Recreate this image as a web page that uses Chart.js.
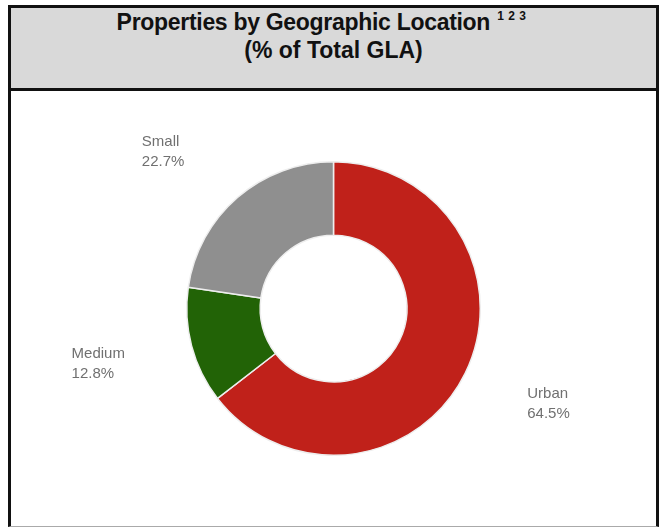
<!DOCTYPE html>
<html>
<head>
<meta charset="utf-8">
<script src="https://cdn.jsdelivr.net/npm/chart.js@4/dist/chart.umd.min.js"></script>
<style>
  html, body { margin: 0; padding: 0; background: #fff; }
  body { width: 660px; height: 527px; position: relative; overflow: hidden; font-family: "Liberation Sans", Arial, sans-serif; }
  #header {
    position: absolute; left: 8px; top: 5px; width: 645px; height: 80px;
    background: #d9d9d9; border: 3px solid #111;
    text-align: center; color: #111; font-weight: bold; font-size: 23px; line-height: 28px;
  }
  #header .t1 { padding-top: 0px; letter-spacing: -0.3px; position: relative; left: -12px; }
  #header sup { font-size: 12px; vertical-align: 10px; line-height: 0; margin-left: 1px; letter-spacing: 0.5px; }
  #box {
    position: absolute; left: 8px; top: 91px; width: 645px; height: 435px;
    border-left: 3px solid #111; border-right: 3px solid #111; border-bottom: 1px solid #aaa;
    background: #fff;
  }
  #wrap { position: absolute; left: 0; top: 0; width: 645px; height: 435px; }
</style>
</head>
<body>
<div id="header">
  <div class="t1">Properties by Geographic Location <sup>1 2 3</sup></div>
  <div>(% of Total GLA)</div>
</div>
<div id="box">
  <div id="wrap"><canvas id="donut"></canvas></div>
</div>
<script>
const categories = ['Urban', 'Medium', 'Small'];
const shares = [64.5, 12.8, 22.7];
const sliceColors = ['#c0211a', '#226306', '#8f8f8f'];

// labels outside each slice, like the original report
const outsideLabels = {
  id: 'outsideLabels',
  afterDatasetsDraw(chart) {
    const ctx = chart.ctx;
    const meta = chart.getDatasetMeta(0);
    ctx.save();
    ctx.font = '15px "Liberation Sans", Arial, sans-serif';
    ctx.fillStyle = '#707070';
    ctx.textBaseline = 'middle';
    ctx.textAlign = 'left';
    meta.data.forEach((arc, i) => {
      const mid = (arc.startAngle + arc.endAngle) / 2;
      const r = arc.outerRadius * 1.47;
      let x = arc.x + Math.cos(mid) * r;
      let y = arc.y + Math.sin(mid) * r;
      if (Math.sin(mid) < -0.5) { x -= 8; y += 7; } // upper labels sit a bit lower
      const lines = [categories[i], shares[i].toFixed(1) + '%'];
      const w = Math.max(...lines.map(l => ctx.measureText(l).width));
      const x0 = Math.cos(mid) >= 0 ? x : x - w;
      ctx.fillText(lines[0], x0, y - 10);
      ctx.fillText(lines[1], x0, y + 10);
    });
    ctx.restore();
  }
};

new Chart(document.getElementById('donut'), {
  type: 'doughnut',
  data: {
    labels: categories,
    datasets: [{
      data: shares,
      backgroundColor: sliceColors,
      borderColor: '#eeeeee',
      borderWidth: 1.5
    }]
  },
  options: {
    responsive: true,
    maintainAspectRatio: false,
    animation: false,
    cutout: '50%',
    layout: { padding: { top: 70, bottom: 70 } },
    plugins: {
      legend: { display: false },
      tooltip: { enabled: false }
    }
  },
  plugins: [outsideLabels]
});
</script>
</body>
</html>
